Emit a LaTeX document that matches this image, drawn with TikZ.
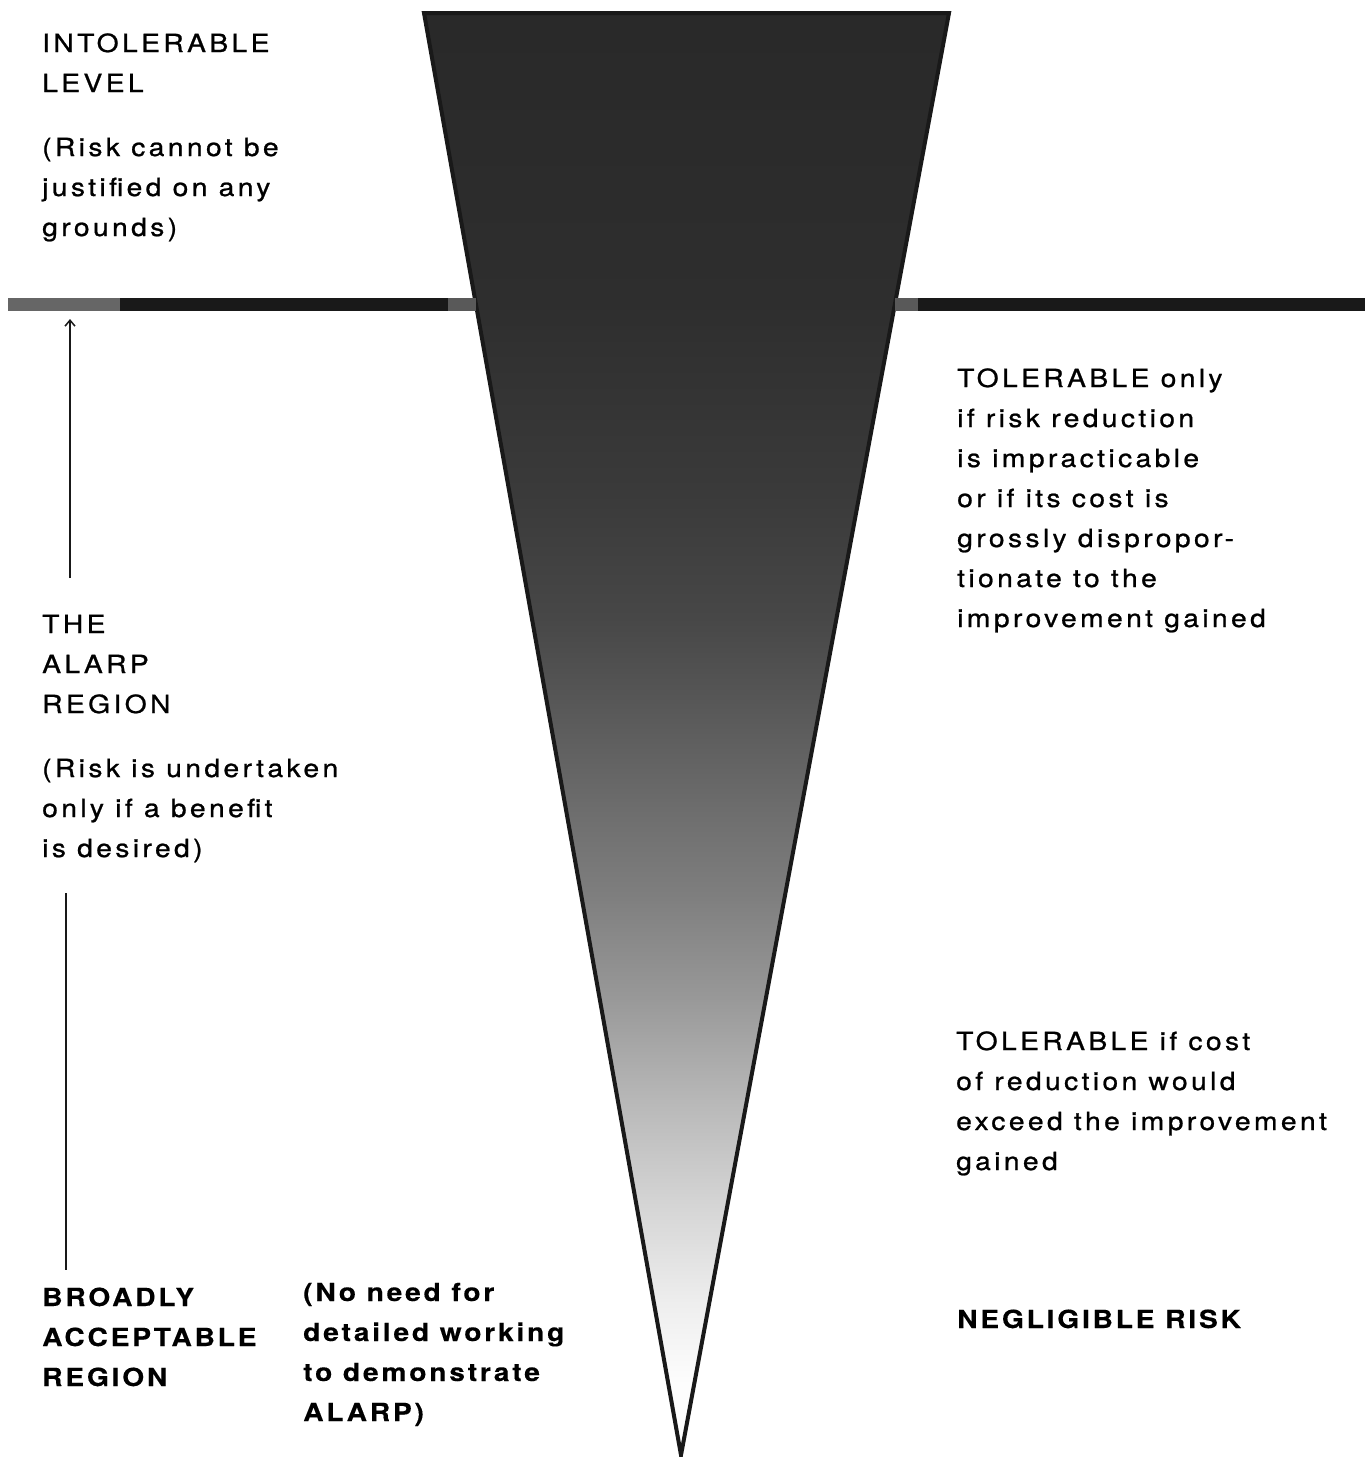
\documentclass[tikz,border=0pt]{standalone}
\usepackage{fontspec}
\setmainfont{TeX Gyre Heros}[LetterSpace=13.5, FakeStretch=1.13, FakeBold=0.9, BoldFeatures={FakeBold=0.2, LetterSpace=11}]
\usetikzlibrary{arrows.meta}
\begin{document}
\begin{tikzpicture}[x=1pt,y=-1pt,
  txt/.style={anchor=base west, inner sep=0pt, align=left, font=\fontsize{25}{40}\selectfont},
  boldtxt/.style={txt, font=\fontsize{25}{40}\selectfont\bfseries},
  bar/.style={line width=13pt},
  thin/.style={line width=2pt, black!90},
]
\useasboundingbox[fill=white] (0,0) rectangle (1370,1457);
% triangle
\coordinate (TL) at (424,13);
\coordinate (TR) at (949,13);
\coordinate (TIP) at (681,1455);
\begin{scope}
  \clip (TL) -- (TR) -- (TIP) -- cycle;
  \foreach \ya/\yb/\da/\db in {13/300/84/82, 300/500/82/77, 500/620/77/72, 620/700/72/66,
      700/800/66/58, 800/900/58/50, 900/1000/50/40, 1000/1100/40/28, 1100/1200/28/17,
      1200/1300/17/7, 1300/1380/7/1, 1380/1460/1/0}
    \shade[top color=black!\da, bottom color=black!\db] (400,\ya) rectangle (960,\yb+1);
\end{scope}
\draw[line width=4pt, black!90, line join=miter] (TL) -- (TR) -- (TIP) -- cycle;
% horizontal divider
\coordinate (L0) at (8,304.5);
\coordinate (L1) at (120,304.5);
\coordinate (L2) at (448,304.5);
\coordinate (L3) at (476,304.5);
\coordinate (R0) at (895,304.5);
\coordinate (R1) at (918,304.5);
\coordinate (R2) at (1365,304.5);
\draw[bar, black!60] (L0) -- (L1);
\draw[bar, black!90] (L1) -- (L2);
\draw[bar, black!65] (L2) -- (L3);
\draw[bar, black!65] (R0) -- (R1);
\draw[bar, black!90] (R1) -- (R2);
% left texts (anchor = baseline of last line)
\node[txt] (intol) at (42,92) {INTOLERABLE\\LEVEL};
\node[txt] (intolnote) at (42,236) {(Risk cannot be\\justified on any\\grounds)};
\node[txt] (alarp) at (42,713) {THE\\ALARP\\REGION};
\node[txt] (alarpnote) at (42,857) {(Risk is undertaken\\only if a benefit\\is desired)};
\node[boldtxt] (broad) at (42,1386) {BROADLY\\ACCEPTABLE\\REGION};
\node[boldtxt] (broadnote) at (303,1421) {(No need for\\detailed working\\to demonstrate\\ALARP)};
% right texts
\node[txt] (tolA) at (957,627) {TOLERABLE only\\if risk reduction\\is impracticable\\or if its cost is\\grossly dispropor-\\tionate to the\\improvement gained};
\node[txt] (tolB) at (956,1170) {TOLERABLE if cost\\of reduction would\\exceed the improvement\\gained};
\node[boldtxt] (negl) at (957,1328) {NEGLIGIBLE RISK};
% connectors
\coordinate (arrfoot) at (70,578);
\coordinate (arrtip) at (70,319);
\draw[thin, -{Straight Barb[length=6pt,width=10pt,line width=1.5pt]}] (arrfoot) -- (arrtip);
\coordinate (linetop) at (66,893);
\coordinate (linebot) at (66,1270);
\draw[thin] (linetop) -- (linebot);
\end{tikzpicture}
\end{document}
